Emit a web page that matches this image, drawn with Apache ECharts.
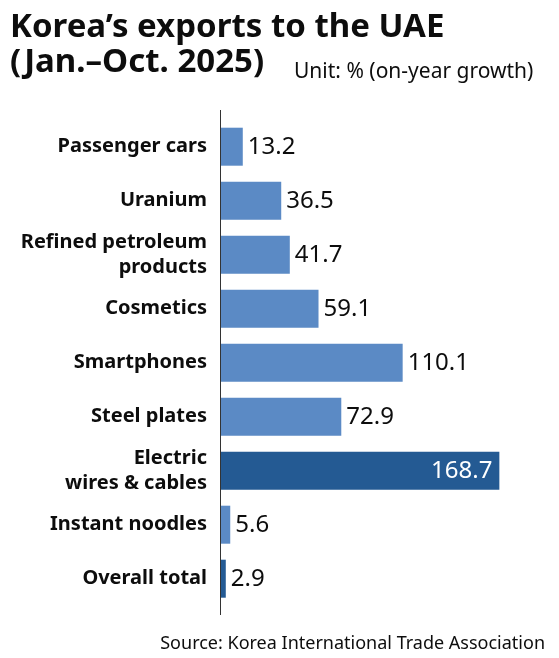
<!DOCTYPE html>
<html>
<head>
<meta charset="utf-8">
<script src="https://cdn.jsdelivr.net/npm/echarts@6/dist/echarts.min.js"></script>
<style>
  html, body { margin: 0; padding: 0; background: #fff; }
  #main { width: 559px; height: 658px; }
</style>
</head>
<body>
<div id="main"></div>
<script>
var categories = ['Passenger cars', 'Uranium', 'Refined petroleum\nproducts', 'Cosmetics',
    'Smartphones', 'Steel plates', 'Electric\nwires & cables', 'Instant noodles', 'Overall total'];
var growth = [13.2, 36.5, 41.7, 59.1, 110.1, 72.9, 168.7, 5.6, 2.9];

var LIGHT = '#5b8ac5';
var DARK = '#245a93';
var FONT = '"Noto Sans", sans-serif';

var myChart = echarts.init(document.getElementById('main'));

var barData = growth.map(function (v, i) {
    var name = categories[i];
    var item = { value: v, itemStyle: { color: LIGHT } };
    if (name === 'Overall total') {
        item.itemStyle.color = DARK;
    }
    if (name.indexOf('Electric') === 0) {
        item.itemStyle.color = DARK;
        item.label = { position: 'insideRight', distance: 7, color: '#fff' };
    }
    return item;
});

option = {
    animation: false,
    backgroundColor: '#fff',
    grid: {
        left: 221,
        top: 119.7,
        height: 486,
        width: 330
    },
    xAxis: {
        type: 'value',
        min: 0,
        max: 200,
        show: false
    },
    yAxis: {
        type: 'category',
        data: categories,
        inverse: true,
        axisLine: { show: false },
        axisTick: { show: false },
        axisLabel: {
            margin: 14,
            fontFamily: FONT,
            fontWeight: 'bold',
            fontSize: 20,
            lineHeight: 25,
            color: '#0d0d0d'
        }
    },
    series: [
        {
            type: 'bar',
            data: barData,
            barWidth: 38,
            label: {
                show: true,
                position: 'right',
                distance: 5,
                fontFamily: FONT,
                fontSize: 24,
                color: '#0d0d0d'
            }
        }
    ],
    graphic: [
        {
            type: 'line',
            shape: { x1: 220.5, y1: 110, x2: 220.5, y2: 615 },
            style: { stroke: '#333', lineWidth: 1 }
        },
        {
            type: 'text',
            x: 10, y: 28,
            style: {
                text: 'Korea\u2019s exports to the UAE',
                font: 'bold 33px ' + FONT,
                fill: '#0d0d0d',
                verticalAlign: 'middle'
            }
        },
        {
            type: 'text',
            x: 10, y: 63,
            style: {
                text: '(Jan.\u2013Oct. 2025)',
                font: 'bold 33px ' + FONT,
                fill: '#0d0d0d',
                verticalAlign: 'middle'
            }
        },
        {
            type: 'text',
            x: 294, y: 72.5,
            style: {
                text: 'Unit: % (on-year growth)',
                font: '21px ' + FONT,
                fill: '#0d0d0d',
                verticalAlign: 'middle'
            }
        },
        {
            type: 'text',
            x: 545, y: 643.5,
            style: {
                text: 'Source: Korea International Trade Association',
                font: '18px ' + FONT,
                fill: '#0d0d0d',
                align: 'right',
                verticalAlign: 'middle'
            }
        }
    ]
};

myChart.setOption(option);
</script>
</body>
</html>
